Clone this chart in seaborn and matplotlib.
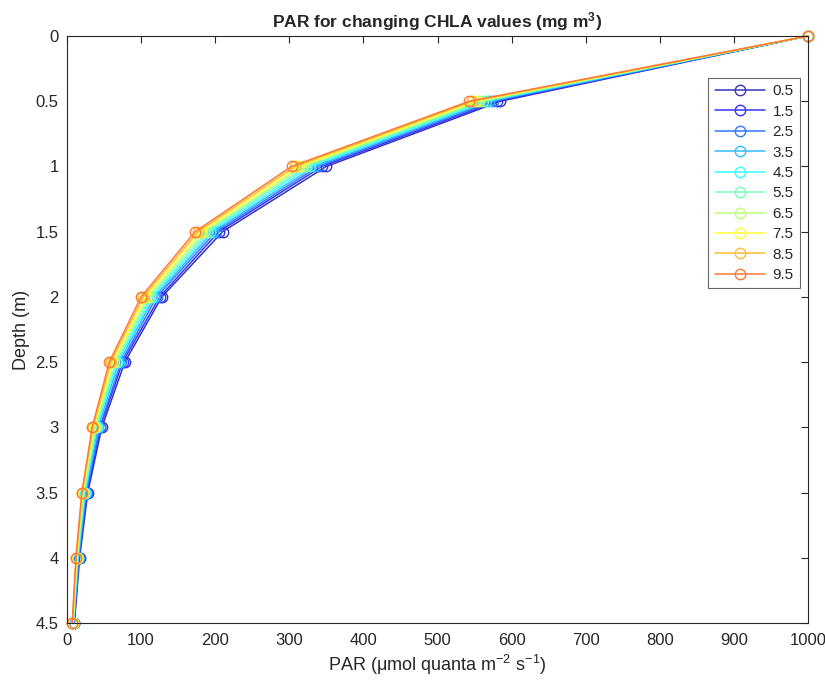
import numpy as np
import pandas as pd
import matplotlib
matplotlib.use("Agg")
import matplotlib.pyplot as plt
import seaborn as sns
from matplotlib.lines import Line2D

depth = [0, 0.5, 1, 1.5, 2, 2.5, 3, 3.5, 4, 4.5]
chla = [0.5, 1.5, 2.5, 3.5, 4.5, 5.5, 6.5, 7.5, 8.5, 9.5]

par_05 = [1000, 585, 350, 210, 128, 78, 47, 28, 17.0, 10.0]
par_15 = [1000, 580, 344, 205, 125, 75, 45, 27, 16.4, 9.6]
par_25 = [1000, 575, 339, 201, 121, 73, 44, 26, 15.8, 9.3]
par_35 = [1000, 570, 334, 197, 118, 70, 42, 25, 15.2, 9.0]
par_45 = [1000, 565, 328, 193, 115, 68, 40, 24, 14.6, 8.6]
par_55 = [1000, 561, 323, 189, 112, 66, 39, 23, 14.0, 8.3]
par_65 = [1000, 556, 318, 185, 109, 63, 38, 22, 13.5, 8.0]
par_75 = [1000, 552, 313, 181, 106, 61, 36, 21, 13.0, 7.6]
par_85 = [1000, 547, 308, 177, 103, 59, 35, 20.5, 12.5, 7.3]
par_95 = [1000, 543, 303, 173, 100, 57, 34, 20, 12.0, 7.0]

series = [par_05, par_15, par_25, par_35, par_45, par_55, par_65, par_75, par_85, par_95]
labels = [str(c) for c in chla]

sns.set_style("white")
plt.rcParams['font.family'] = ['Liberation Sans', 'DejaVu Sans']
plt.rcParams['mathtext.default'] = 'regular'

jet10 = [(0, 0, 0.6667), (0, 0, 1), (0, 0.3333, 1), (0, 0.6667, 1), (0, 1, 1),
         (0.3333, 1, 0.6667), (0.6667, 1, 0.3333), (1, 1, 0), (1, 0.6667, 0), (1, 0.3333, 0)]
w = 0.2
palette = [tuple(c * (1 - w) + w for c in col) for col in jet10]

fig = plt.figure(figsize=(8.25, 6.81), dpi=100)
ax = fig.add_axes([67/825, 1 - 623/681, (808 - 67)/825, (623 - 36)/681])

for lab, vals, col in zip(labels, series, palette):
    d = pd.DataFrame({"PAR": vals, "Depth": depth})
    sns.lineplot(data=d, x="PAR", y="Depth", color=col, sort=False, estimator=None,
                 marker="o", markerfacecolor="none", markeredgecolor=col,
                 markersize=7.5, markeredgewidth=1.0, linewidth=1.1, ax=ax,
                 label=lab, legend=False, clip_on=False)

ax.set_xlim(0, 1000)
ax.set_ylim(4.5, 0)
ax.set_xticks(np.arange(0, 1001, 100))
ax.set_yticks(depth)
ax.set_yticklabels(["0", "0.5", "1", "1.5", "2", "2.5", "3", "3.5", "4", "4.5"])

dark = (0.15, 0.15, 0.15)
for s in ax.spines.values():
    s.set_visible(True)
    s.set_color(dark)
    s.set_linewidth(0.8)
ax.tick_params(direction='in', top=True, right=True, length=5, width=0.8,
               colors=dark, labelsize=12, pad=6)
ax.tick_params(axis='x', pad=7)

ax.set_title("PAR for changing CHLA values (mg m$^3$)", fontsize=12.5,
             fontweight='bold', pad=6)
ax.set_xlabel("PAR (μmol quanta m$^{-2}$ s$^{-1}$)", fontsize=13, color=dark)
ax.set_ylabel("Depth (m)", fontsize=13, color=dark)

handles = [Line2D([0], [0], color=c, marker='o', markerfacecolor='none',
                  markeredgecolor=c, markersize=7.5, linewidth=1.1) for c in palette]
leg = ax.legend(handles, labels, loc='upper right', bbox_to_anchor=(0.989, 0.928),
                borderaxespad=0, fancybox=False, framealpha=1, edgecolor=(0.4, 0.4, 0.4),
                handlelength=3.3, fontsize=11, labelspacing=0.42,
                borderpad=0.4, handletextpad=0.5)
leg.get_frame().set_linewidth(0.8)

fig.savefig("out.png", dpi=100)
